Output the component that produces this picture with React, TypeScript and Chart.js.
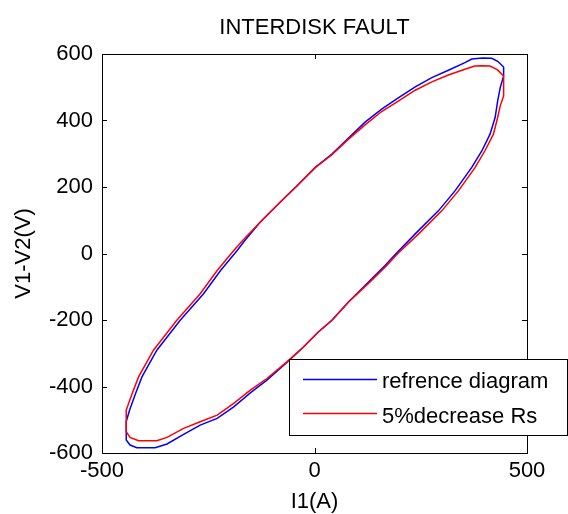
import React, { useEffect, useRef } from "react";
import { Chart, registerables } from "chart.js";

Chart.register(...registerables);

const TITLE = "INTERDISK FAULT";
const X_LABEL = "I1(A)";
const Y_LABEL = "V1-V2(V)";
const SERIES_NAMES = ["refrence diagram", "5%decrease Rs"];
const SERIES_COLORS = ["#0000ff", "#ff0000"];
const X_MIN = -500;
const X_MAX = 500;
const X_STEP = 500;
const Y_MIN = -600;
const Y_MAX = 600;
const Y_STEP = 200;

// reference diagram (blue)
const BLUE_I = [445, 431, 417, 395, 370, 354, 315, 276, 237, 198, 158, 119, 80, 41, 2, -41, -81, -128, -164, -182, -221, -261, -316, -371, -406, -421, -435, -443, -443, -434, -418, -375, -347, -308, -269, -229, -190, -151, -112, -65, -26, 9, 41, 80, 127, 166, 192, 237, 292, 331, 370, 394, 413, 425, 431, 437, 445, 445];
const BLUE_V = [561, 578, 587, 588, 585, 574, 551, 529, 501, 469, 434, 395, 347, 299, 259, 204, 154, 94, 39, 9, -51, -121, -201, -291, -371, -421, -471, -505, -561, -576, -584, -584, -573, -544, -516, -496, -461, -419, -381, -328, -281, -236, -201, -146, -86, -36, 0, 59, 129, 189, 259, 309, 359, 409, 459, 499, 534, 561];

// 5% decrease Rs (red)
const RED_I = [430, 413, 395, 377, 354, 315, 276, 237, 198, 158, 119, 80, 41, 2, -41, -81, -128, -169, -190, -229, -269, -324, -379, -414, -429, -443, -443, -434, -414, -371, -347, -308, -269, -229, -190, -151, -112, -65, -26, 9, 41, 80, 130, 170, 196, 245, 300, 339, 378, 401, 421, 431, 437, 445, 445, 430];
const RED_V = [553, 564, 565, 564, 554, 537, 516, 491, 459, 427, 387, 344, 297, 259, 204, 154, 94, 39, 9, -51, -121, -201, -291, -371, -421, -471, -536, -553, -563, -563, -553, -526, -506, -486, -451, -411, -376, -326, -281, -236, -201, -146, -86, -36, 0, 59, 129, 189, 259, 309, 359, 409, 444, 474, 534, 553];

const FONT = "'Liberation Sans', Arial, Helvetica, sans-serif";

const framePlugin = {
  id: "matlabFrame",
  afterDraw(chart: any) {
    const { ctx, chartArea } = chart;
    const { left, right, top, bottom } = chartArea;
    const xs = chart.scales.x;
    const ys = chart.scales.y;
    ctx.save();
    // axes box
    ctx.strokeStyle = "#000";
    ctx.lineWidth = 1;
    ctx.strokeRect(left + 0.5, top + 0.5, right - left, bottom - top);
    // inward ticks
    const tl = 5;
    ctx.beginPath();
    xs.ticks.forEach((t: any) => {
      const px = Math.round(xs.getPixelForValue(t.value)) + 0.5;
      ctx.moveTo(px, bottom);
      ctx.lineTo(px, bottom - tl);
      ctx.moveTo(px, top);
      ctx.lineTo(px, top + tl);
    });
    ys.ticks.forEach((t: any) => {
      const py = Math.round(ys.getPixelForValue(t.value)) + 0.5;
      ctx.moveTo(left, py);
      ctx.lineTo(left + tl, py);
      ctx.moveTo(right, py);
      ctx.lineTo(right - tl, py);
    });
    ctx.stroke();

    // title and axis labels
    ctx.fillStyle = "#000";
    ctx.textAlign = "center";
    ctx.textBaseline = "middle";
    ctx.font = `22px ${FONT}`;
    const cx = (left + right) / 2;
    ctx.fillText(TITLE, cx, 28);
    ctx.fillText(X_LABEL, cx, 502);
    ctx.save();
    ctx.translate(24, (top + bottom) / 2);
    ctx.rotate(-Math.PI / 2);
    ctx.fillText(Y_LABEL, 0, 0);
    ctx.restore();

    // legend
    const lx = 289, ly = 359, lw = 278, lh = 76;
    ctx.fillStyle = "#fff";
    ctx.fillRect(lx, ly, lw, lh);
    ctx.strokeStyle = "#000";
    ctx.lineWidth = 1;
    ctx.strokeRect(lx + 0.5, ly + 0.5, lw, lh);
    const rows = [379.5, 413.5];
    const baselines = [388, 422.5];
    chart.data.datasets.forEach((ds: any, i: number) => {
      ctx.strokeStyle = ds.borderColor;
      ctx.lineWidth = 1.5;
      ctx.beginPath();
      ctx.moveTo(303, rows[i]);
      ctx.lineTo(377, rows[i]);
      ctx.stroke();
      ctx.fillStyle = "#000";
      ctx.textAlign = "left";
      ctx.textBaseline = "alphabetic";
      ctx.font = `22px ${FONT}`;
      ctx.fillText(ds.label, 382, baselines[i]);
    });
    ctx.restore();
  },
};

export default function App() {
  const ref = useRef<HTMLCanvasElement>(null);
  useEffect(() => {
    document.body.style.margin = "0";
    const canvas = ref.current!;
    const mk = (xs: number[], ys: number[]) => xs.map((x, i) => ({ x, y: ys[i] }));
    const chart = new Chart(canvas, {
      type: "scatter",
      data: {
        datasets: [
          {
            label: SERIES_NAMES[0],
            data: mk(BLUE_I, BLUE_V),
            borderColor: SERIES_COLORS[0],
            backgroundColor: SERIES_COLORS[0],
            showLine: true,
            pointRadius: 0,
            borderWidth: 1.5,
            tension: 0,
            fill: false,
            order: 1,
          },
          {
            label: SERIES_NAMES[1],
            data: mk(RED_I, RED_V),
            borderColor: SERIES_COLORS[1],
            backgroundColor: SERIES_COLORS[1],
            showLine: true,
            pointRadius: 0,
            borderWidth: 1.5,
            tension: 0,
            fill: false,
            order: 0,
          },
        ],
      },
      options: {
        animation: false,
        responsive: false,
        maintainAspectRatio: false,
        layout: { padding: { top: 54, right: 41, left: 0, bottom: 0 } },
        plugins: {
          legend: { display: false },
          title: { display: false },
          tooltip: { enabled: false },
        },
        scales: {
          x: {
            type: "linear",
            min: X_MIN,
            max: X_MAX,
            ticks: {
              stepSize: X_STEP,
              color: "#000",
              font: { family: FONT, size: 22 },
              padding: 5,
              maxRotation: 0,
            },
            grid: { display: false, drawTicks: false },
            border: { display: false },
            afterFit: (s: any) => {
              s.height = 61;
            },
          },
          y: {
            type: "linear",
            min: Y_MIN,
            max: Y_MAX,
            ticks: {
              stepSize: Y_STEP,
              color: "#000",
              font: { family: FONT, size: 22 },
              padding: 9,
            },
            grid: { display: false, drawTicks: false },
            border: { display: false },
            afterFit: (s: any) => {
              s.width = 102;
            },
          },
        },
      },
      plugins: [framePlugin],
    } as any);
    return () => chart.destroy();
  }, []);
  return <canvas ref={ref} width={568} height={514} style={{ display: "block" }} />;
}
